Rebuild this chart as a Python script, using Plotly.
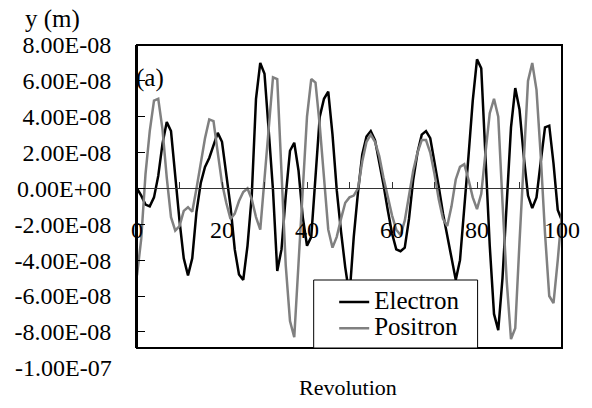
import plotly.graph_objects as go

revolution = list(range(0, 101))

# values in units of 1e-8 m
electron_1e8 = [
    0.0, -0.4, -0.9, -1.0, -0.5, 0.7, 2.5, 3.7, 3.2, 0.5,
    -1.8, -3.9, -4.85, -3.9, -1.3, 0.3, 1.2, 1.7, 2.4, 3.1,
    2.6, 0.9, -1.0, -3.4, -4.8, -5.1, -3.2, -0.4, 5.0, 7.0,
    6.4, 3.2, -0.1, -4.6, -3.4, -0.4, 2.1, 2.55, 1.0, -1.6,
    -3.2, -2.7, 0.5, 4.0, 5.0, 5.4, 3.0, -0.1, -2.4, -4.4,
    -6.0, -2.7, -0.2, 1.9, 2.9, 3.2, 2.7, 1.5, 0.2, -1.2,
    -2.5, -3.4, -3.5, -3.3, -1.7, 0.5, 2.0, 3.0, 3.2, 2.8,
    1.5, 0.1, -1.4, -2.7, -4.0, -5.1, -4.0, -1.2, 1.8, 4.9,
    7.2, 6.7, 1.6, -3.2, -7.0, -7.9, -5.0, -1.0, 3.4, 5.6,
    4.4, 1.8, -0.4, -1.1, -0.5, 1.5, 3.4, 3.5, 1.4, -1.2,
    -1.8,
]

positron_1e8 = [
    -4.85, -2.8, 0.8, 3.2, 4.9, 5.0, 3.3, 0.6, -1.6, -2.35,
    -2.1, -1.25, -1.05, -1.3, 0.0, 1.5, 2.8, 3.85, 3.75, 2.0,
    0.3, -0.8, -1.7, -1.4, -0.7, -0.2, 0.0, -0.6, -1.6, -2.3,
    0.5, 3.5, 6.2, 6.1, 1.0, -4.3, -7.4, -8.3, -4.2, 0.0,
    4.0, 6.1, 5.9, 3.5, 0.5, -2.3, -3.3, -2.7, -1.7, -0.8,
    -0.5, -0.4, 0.0, 1.5, 2.6, 3.0, 2.6, 1.8, 0.6, -0.5,
    -1.5, -2.3, -2.6, -1.8, -0.4, 1.0, 2.0, 2.7, 2.7, 2.0,
    0.8, -0.6, -1.7, -2.1, -1.0, 0.5, 1.2, 1.35, 0.5, -0.5,
    -1.15, -0.3, 2.0, 4.2, 5.0, 4.0, -0.8, -5.2, -8.4, -7.8,
    -3.0, 1.6, 6.0, 7.0, 5.5, 1.8, -2.5, -6.0, -6.4, -4.0,
    -1.3,
]

series_names = ["Electron", "Positron"]

y_tick_vals = [8e-8, 6e-8, 4e-8, 2e-8, 0.0, -2e-8, -4e-8, -6e-8, -8e-8]
y_tick_labels = ["8.00E-08", "6.00E-08", "4.00E-08", "2.00E-08", "0.00E+00",
                 "-2.00E-08", "-4.00E-08", "-6.00E-08", "-8.00E-08"]
y_extra_tick_val = -1e-7
y_extra_tick_label = "-1.00E-07"
x_tick_vals = [0, 20, 40, 60, 80, 100]

SCALE = 1e-8
electron = [v * SCALE for v in electron_1e8]
positron = [v * SCALE for v in positron_1e8]

FONT = "Liberation Serif, Times New Roman, serif"
FS = 22
TICK_FS = 24
LEG_TEXT_FS = 25
LEG_ROW_FS = 18


def leg_name(s):
    return f"<span style='font-size:{LEG_TEXT_FS}px'>{s}</span>"


fig = go.Figure()
fig.add_trace(go.Scatter(x=revolution, y=electron, mode="lines", name=leg_name(series_names[0]),
                         line=dict(color="#000000", width=2.5)))
fig.add_trace(go.Scatter(x=revolution, y=positron, mode="lines", name=leg_name(series_names[1]),
                         line=dict(color="#808080", width=2.5)))

W, H = 592, 408
ml, mr, mt, mb = 137, 22, 45, 60
ymin, ymax = -8.9e-8, 8.0e-8
zero_pos = (0 - ymin) / (ymax - ymin)
extra_tick_paper_y = (y_extra_tick_val - ymin) / (ymax - ymin)

fig.update_layout(
    width=W, height=H,
    margin=dict(l=ml, r=mr, t=mt, b=mb),
    paper_bgcolor="white", plot_bgcolor="white",
    font=dict(family=FONT, size=FS, color="black"),
    showlegend=True,
    legend=dict(x=0.464, y=0.212, xanchor="left", yanchor="top",
                bgcolor="rgba(0,0,0,0)", borderwidth=0,
                font=dict(family=FONT, size=LEG_ROW_FS, color="black"),
                tracegroupgap=0, itemwidth=30),
    xaxis=dict(range=[0, 100], tickvals=x_tick_vals,
               anchor="free", position=zero_pos,
               showline=True, linecolor="#333333", linewidth=1,
               ticks="inside", ticklen=6, tickcolor="#333333", tickwidth=1,
               minor=dict(dtick=10, tick0=0, ticks="inside", ticklen=6,
                          tickcolor="#333333", tickwidth=1, showgrid=False),
               showgrid=False, zeroline=False,
               ticklabelstandoff=20,
               tickfont=dict(family=FONT, size=TICK_FS, color="black")),
    yaxis=dict(range=[ymin, ymax], tickvals=y_tick_vals, ticktext=y_tick_labels,
               showline=True, linecolor="black", linewidth=2,
               ticks="inside", ticklen=8, tickcolor="black", tickwidth=1,
               showgrid=False, zeroline=False,
               ticklabelstandoff=19,
               tickfont=dict(family=FONT, size=TICK_FS, color="black")),
)

# plot frame
fig.add_shape(type="rect", xref="paper", yref="paper", x0=0, x1=1, y0=0, y1=1,
              line=dict(color="black", width=2), fillcolor="rgba(0,0,0,0)", layer="above")
# legend box
fig.add_shape(type="rect", xref="paper", yref="paper", x0=0.4157, x1=0.8014, y0=0, y1=0.2244,
              line=dict(color="black", width=1), fillcolor="white", layer="above")

fig.add_annotation(text=y_extra_tick_label, xref="paper", yref="paper", x=0, y=extra_tick_paper_y,
                   xanchor="right", yanchor="middle", xshift=-23, showarrow=False,
                   font=dict(family=FONT, size=TICK_FS, color="black"))
fig.add_annotation(text="y (m)", xref="paper", yref="paper", x=-0.1986, y=1.0858,
                   xanchor="center", yanchor="middle", showarrow=False,
                   font=dict(family=FONT, size=25, color="black"))
fig.add_annotation(text="(a)", xref="paper", yref="paper", x=0, y=0.891,
                   xanchor="left", yanchor="middle", xshift=-3, showarrow=False,
                   font=dict(family=FONT, size=25, color="black"))
fig.add_annotation(text="Revolution", xref="paper", yref="paper", x=0.4965, y=-0.132,
                   xanchor="center", yanchor="middle", showarrow=False,
                   font=dict(family=FONT, size=FS, color="black"))

fig.write_html("out.html", config={"displayModeBar": False},
               post_script="document.body.style.margin='0';")
